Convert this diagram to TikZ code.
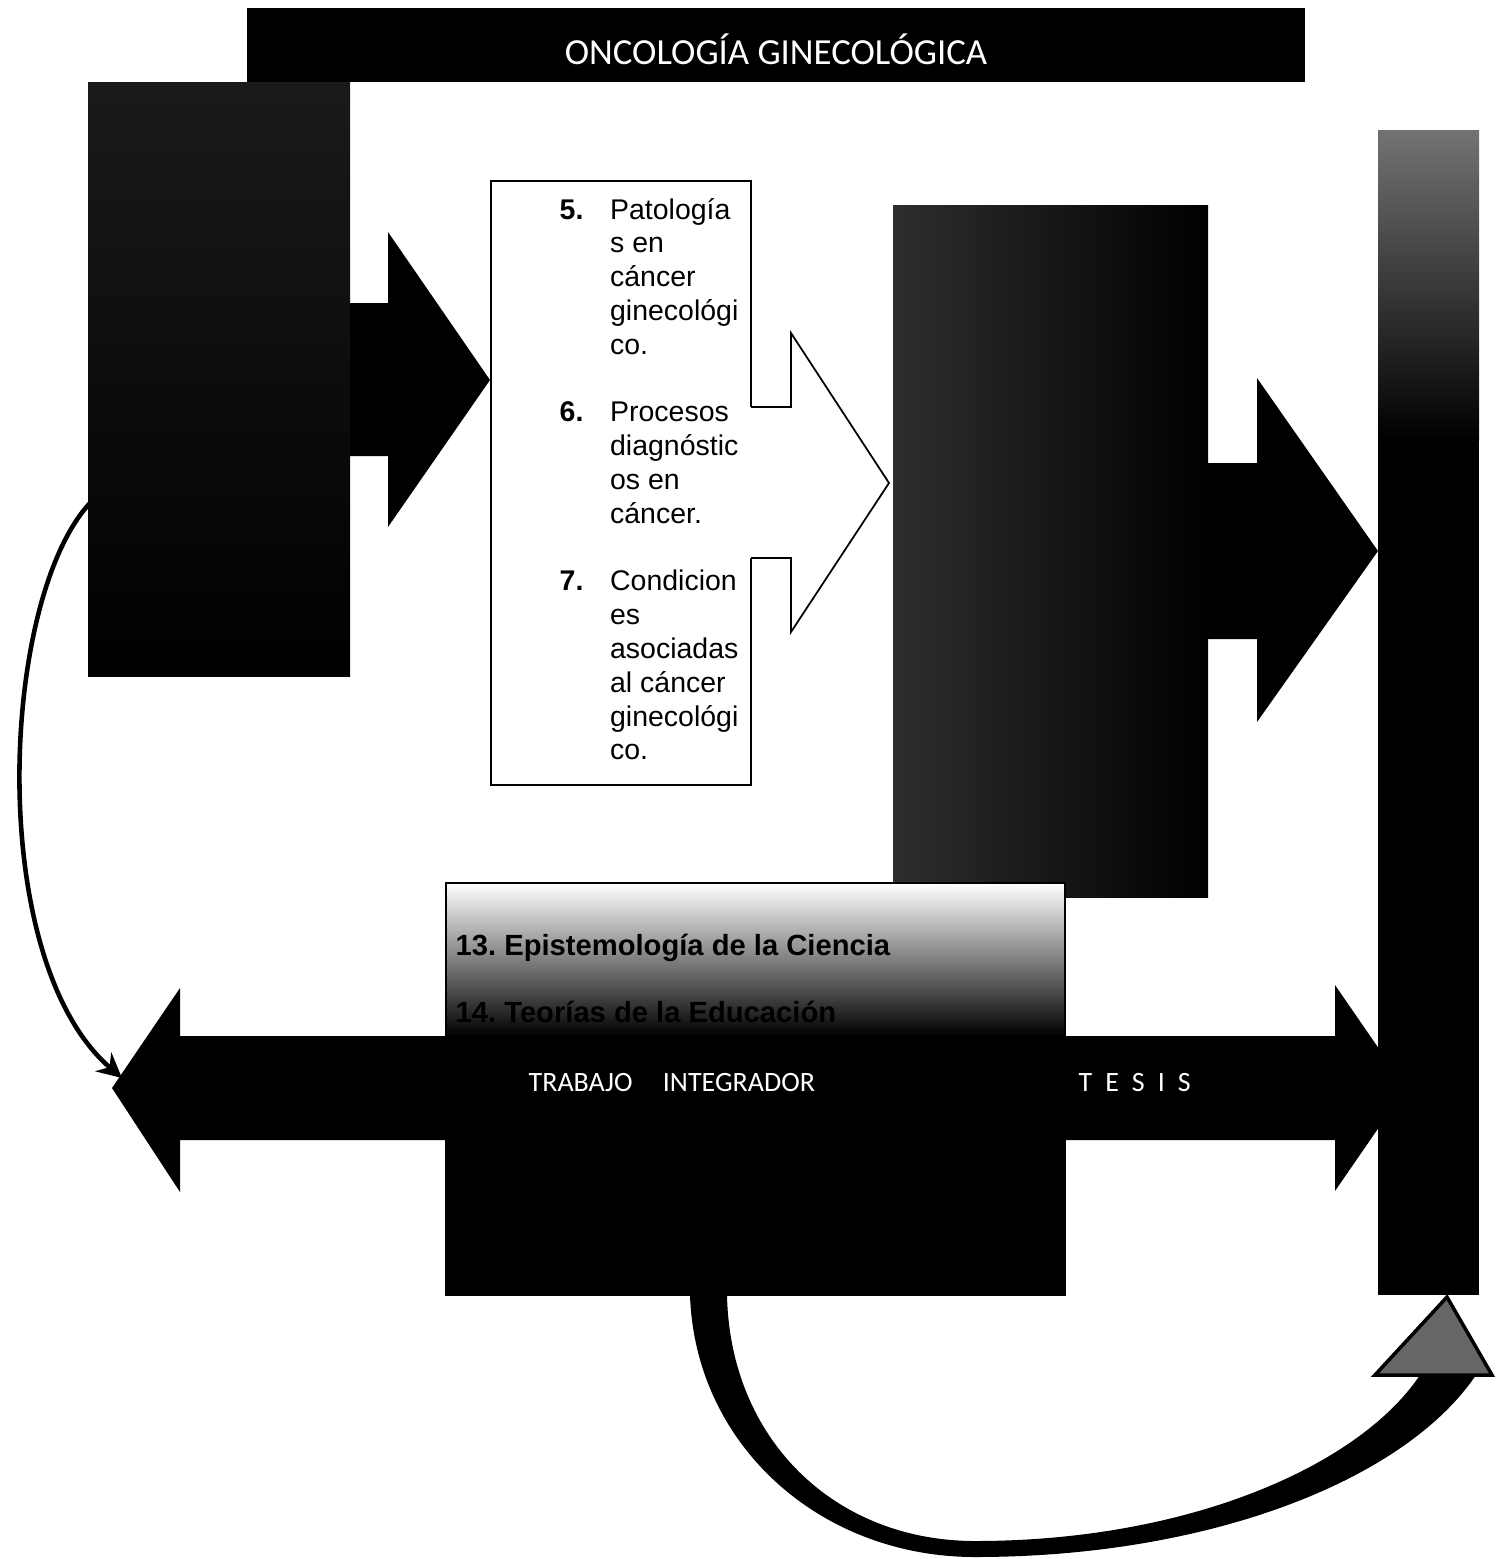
\documentclass[tikz,border=0pt]{standalone}
\usepackage{fontspec}
\setmainfont{Liberation Sans}
\newfontfamily\calibfont{Carlito}
\usepackage{tikz}
\usetikzlibrary{arrows.meta}
\tikzset{
  boxtext/.style={font=\fontsize{8.1}{9.62}\selectfont, inner sep=0pt},
  bartext/.style={font=\calibfont\fontsize{7.96}{9.5}\selectfont, text=white, inner sep=0pt},
  thinframe/.style={draw=black, line width=0.5pt},
  loopback/.style={line width=1.3pt, -{Stealth[length=7pt, width=7pt]}},
}
\frenchspacing

\begin{document}
\begin{tikzpicture}[x=0.1mm, y=-0.1mm]
  \useasboundingbox (0,0) rectangle (1507,1559);

  % Loop back from the first block to the left arrow head
  \coordinate (loopS) at (90,503);
  \coordinate (loopE) at (122,1078);
  \draw[loopback] (loopS) .. controls (0,600) and (-15,960) .. (loopE);

  % First block and its arrow
  \shade[top color=black!90, bottom color=black] (88,82) rectangle (350,676);
  \fill (350,303) -- (388,303) -- (388,232) -- (490,380) -- (388,527) -- (388,456) -- (350,456) -- cycle;

  % Title bar
  \fill (247,8) rectangle (1305,82);
  \node[font=\calibfont\fontsize{10.46}{12}\selectfont, text=white, anchor=base, inner sep=0pt] (title) at (776,64) {ONCOLOGÍA GINECOLÓGICA};

  % Topics box
  \draw[thinframe] (491,181) rectangle (751,785);
  \fill[white] (745,407) -- (791,407) -- (791,333) -- (889,483) -- (791,632) -- (791,558) -- (745,558) -- cycle;
  \draw[line width=0.5pt] (751,407) -- (791,407) -- (791,333) -- (889,483) -- (791,632) -- (791,558) -- (751,558);
  \node[boxtext, anchor=base west] (topics) at (559,219) {%
    \begin{tabular}[t]{@{}l@{\hspace{7.6pt}}l@{}}
      \textbf{5.} & Patología\\
                  & s en\\
                  & cáncer\\
                  & ginecológi\\
                  & co.\\
                  & \\
      \textbf{6.} & Procesos\\
                  & diagnóstic\\
                  & os en\\
                  & cáncer.\\
                  & \\
      \textbf{7.} & Condicion\\
                  & es\\
                  & asociadas\\
                  & al cáncer\\
                  & ginecológi\\
                  & co.
    \end{tabular}};

  % Second block and its arrow
  \shade[left color=black!82, right color=black] (893,205) rectangle (1208,897);
  \fill (1208,463) -- (1257,463) -- (1257,378) -- (1378,551) -- (1257,722) -- (1257,639) -- (1208,639) -- cycle;

  % Lower block
  \fill (446,1035) rectangle (1065,1295);
  \shade[top color=white, middle color=black!45, bottom color=black] (446,883) rectangle (1065,1036);
  \draw[thinframe] (446,883) rectangle (1065,1295);
  \node[boxtext, font=\bfseries\fontsize{8.3}{10}\selectfont, anchor=base west] (epist) at (455,955) {13. Epistemología de la Ciencia};
  \node[boxtext, font=\bfseries\fontsize{8.3}{10}\selectfont, anchor=base west] (teoria) at (455,1022) {14. Teorías de la Educación};

  % Double arrow
  \fill (180,1036) -- (1335,1036) -- (1335,985) -- (1406,1088) -- (1335,1191) -- (1335,1140)
    -- (180,1140) -- (180,1192) -- (112,1088) -- (180,988) -- cycle;
  \node[bartext, anchor=base west] (trabajo) at (528,1091) {TRABAJO\hspace{2.4mm} INTEGRADOR};
  \node[bartext, anchor=base west] (tesis) at (1078,1091) {\spaceskip=1.3mm T E S I S};

  % Right bar
  \fill (1378,420) rectangle (1479,1295);
  \shade[top color=black!55, bottom color=black] (1378,130) rectangle (1479,440);

  % Curved arrow from the lower block to the right bar
  \coordinate (curveS) at (708,1295);
  \coordinate (curveE) at (1447,1297);
  \fill (690,1295) .. controls (695,1445) and (820,1557) .. (975,1557)
    .. controls (1210,1557) and (1405,1480) .. (1476,1375) -- (1492,1375) -- (curveE)
    -- (1375,1375) -- (1420,1375) .. controls (1360,1465) and (1190,1541) .. (975,1541)
    .. controls (835,1541) and (730,1440) .. (727,1295) -- cycle;
  \filldraw[fill=black!60, draw=black, line width=1pt] (1492,1375) -- (curveE) -- (1375,1375) -- cycle;
\end{tikzpicture}
\end{document}
